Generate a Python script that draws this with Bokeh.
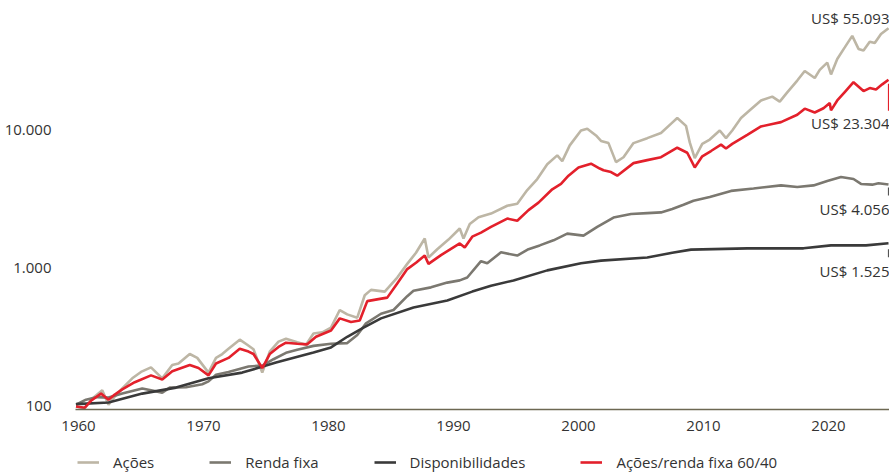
from bokeh.plotting import figure
from bokeh.models import (FixedTicker, CustomJSTickFormatter, Label, Legend, LegendItem,
                          Range1d)
from bokeh.embed import file_html
from bokeh.resources import INLINE

# ---- data ----
acoes_x = [1959.8, 1960.5, 1961.0, 1961.9, 1962.4, 1962.9, 1963.5, 1964.3, 1965.0, 1965.8,
           1966.7, 1967.5, 1968.0, 1968.9, 1969.5, 1970.4, 1971.0, 1971.5, 1972.0, 1972.9,
           1973.5, 1974.0, 1974.7, 1975.3, 1976.0, 1976.6, 1977.5, 1978.2, 1978.8, 1979.5,
           1980.2, 1980.9, 1981.5, 1982.3, 1982.9, 1983.4, 1984.5, 1985.5, 1986.3, 1987.0,
           1987.7, 1988.0, 1988.7, 1989.6, 1990.5, 1990.8, 1991.3, 1992.0, 1993.0, 1994.3,
           1995.1, 1995.9, 1996.7, 1997.5, 1998.3, 1998.7, 1999.3, 2000.2, 2000.7, 2001.4,
           2001.8, 2002.4, 2003.0, 2003.6, 2004.4, 2005.5, 2006.6, 2007.5, 2007.9, 2008.6,
           2008.9, 2009.3, 2009.9, 2010.5, 2011.3, 2011.8, 2012.3, 2013.0, 2013.7, 2014.6,
           2015.5, 2016.1, 2016.7, 2017.5, 2018.1, 2018.9, 2019.3, 2019.9, 2020.2, 2020.7,
           2021.3, 2021.9, 2022.4, 2022.8, 2023.3, 2023.7, 2024.2, 2024.8]
acoes_y = [100, 97, 112, 131, 103, 118, 135, 160, 178, 192,
           160, 200, 205, 240, 225, 176, 225, 240, 262, 305,
           280, 260, 176, 250, 295, 310, 292, 280, 338, 345,
           373, 500, 465, 440, 640, 700, 680, 860, 1080, 1300,
           1650, 1200, 1380, 1620, 1950, 1650, 2100, 2350, 2500, 2850,
           2950, 3700, 4450, 5700, 6600, 6000, 7800, 10000, 10300, 9200,
           8400, 8100, 5900, 6400, 8100, 8800, 9600, 11400, 12300, 10800,
           8200, 6300, 8000, 8600, 10000, 8800, 10000, 12300, 14000, 16500,
           17600, 16200, 18900, 23000, 27000, 24000, 27500, 31000, 25500, 33000,
           40000, 48500, 39000, 38000, 44000, 43000, 50000, 55093]

misto_x = [1959.8, 1960.5, 1961.0, 1961.8, 1962.4, 1962.9, 1963.5, 1964.5, 1965.8, 1966.7,
           1967.5, 1968.9, 1969.6, 1970.4, 1971.0, 1972.0, 1972.9, 1973.6, 1974.0, 1974.7,
           1975.3, 1976.0, 1976.6, 1977.5, 1978.3, 1979.0, 1980.2, 1980.9, 1981.8, 1982.5,
           1983.1, 1984.0, 1984.7, 1985.5, 1986.3, 1987.0, 1987.7, 1988.0, 1989.0, 1990.5,
           1990.9, 1991.5, 1992.2, 1993.0, 1994.3, 1995.1, 1996.0, 1996.8, 1997.9, 1998.6,
           1999.2, 2000.0, 2001.0, 2001.7, 2002.0, 2002.6, 2003.1, 2004.4, 2005.5, 2006.6,
           2007.9, 2008.7, 2009.3, 2009.9, 2010.6, 2011.4, 2011.8, 2012.3, 2013.5, 2014.6,
           2015.6, 2016.2, 2017.5, 2018.1, 2018.9, 2019.6, 2020.1, 2020.2, 2020.7, 2021.3,
           2022.0, 2022.8, 2023.3, 2023.8, 2024.3, 2024.8]
misto_y = [100, 98, 110, 124, 112, 122, 133, 150, 168, 157,
           180, 200, 190, 168, 205, 225, 262, 250, 240, 190,
           240, 270, 290, 285, 282, 320, 355, 435, 410, 420,
           580, 600, 615, 780, 990, 1100, 1240, 1080, 1250, 1520,
           1420, 1700, 1820, 2000, 2300, 2220, 2650, 3000, 3750, 4100,
           4700, 5400, 5750, 5300, 5150, 5000, 4700, 5800, 6100, 6400,
           7500, 6900, 5400, 6500, 7100, 7900, 7400, 8000, 9300, 10700,
           11200, 11500, 13000, 14400, 13500, 14500, 15800, 14000, 16500, 19000,
           22400, 19300, 20300, 19800, 21600, 23304]

renda_x = [1959.8, 1960.6, 1961.5, 1962.4, 1963.5, 1965.1, 1966.7, 1967.3, 1968.6, 1969.9,
           1970.4, 1971.0, 1972.0, 1973.6, 1974.7, 1975.6, 1976.6, 1977.5, 1978.8, 1980.2,
           1981.5, 1982.3, 1983.0, 1984.2, 1985.2, 1986.3, 1986.8, 1988.2, 1989.5, 1990.5,
           1991.1, 1992.2, 1992.7, 1993.8, 1995.1, 1996.0, 1996.9, 1998.0, 1999.1, 2000.4,
           2001.5, 2002.8, 2004.2, 2005.5, 2006.6, 2007.5, 2008.4, 2009.2, 2010.5, 2012.2,
           2014.0, 2016.2, 2017.5, 2018.8, 2019.9, 2021.0, 2022.0, 2022.6, 2023.5, 2024.0,
           2024.8]
renda_y = [103, 112, 117, 116, 124, 135, 126, 137, 138, 145,
           152, 170, 178, 195, 198, 220, 245, 258, 275, 285,
           288, 330, 400, 470, 500, 630, 690, 730, 790, 820,
           860, 1130, 1090, 1310, 1240, 1380, 1470, 1600, 1790, 1730,
           2000, 2340, 2480, 2520, 2550, 2700, 2900, 3100, 3300, 3650,
           3800, 4000, 3900, 4000, 4300, 4600, 4450, 4100, 4050, 4150,
           4056]

disp_x = [1959.8, 1962.4, 1965.1, 1967.8, 1970.4, 1973.1, 1975.8, 1978.8, 1980.2, 1981.5,
          1982.8, 1984.2, 1986.8, 1989.5, 1991.5, 1993.0, 1994.8, 1997.5, 2000.2, 2001.8,
          2005.5, 2007.5, 2009.0, 2013.5, 2018.0, 2020.2, 2023.0, 2024.8]
disp_y = [104, 107, 124, 137, 160, 176, 208, 246, 268, 320,
          373, 435, 522, 586, 680, 750, 819, 969, 1090, 1140,
          1200, 1300, 1370, 1400, 1400, 1470, 1470, 1525]

series_names = ["Ações", "Renda fixa", "Disponibilidades", "Ações/renda fixa 60/40"]
x_ticks = [1960, 1970, 1980, 1990, 2000, 2010, 2020]
y_ticks = [100, 1000, 10000]

# ---- styles ----
C_ACOES = "#bdb6a5"
C_RENDA = "#7b7870"
C_DISP = "#3a3a3a"
C_MISTO = "#e3202b"
C_AXIS = "#6d6852"
TXT = "#333333"
FONT = "Open Sans"

PX = 10 ** (1 / 138.0)          # one screen pixel along the log y scale
AXIS_START = 1959.76             # where the baseline begins
AXIS_VALUE = 100 / PX ** 3       # baseline sits just under the 100 level

# the frame also covers the legend row at the bottom, so the baseline and the
# year labels are drawn inside it at the baseline level
p = figure(frame_width=831, frame_height=465, y_axis_type="log", x_axis_location=None,
           x_range=Range1d(1958.4, 2024.88), y_range=Range1d(33.24, 77850),
           output_backend="svg", toolbar_location=None,
           min_border_left=58, min_border_right=0, min_border_top=7, min_border_bottom=0)
p.outline_line_color = None
p.grid.visible = False
p.background_fill_color = "white"
p.border_fill_color = "white"

r_acoes = p.line(acoes_x, acoes_y, line_color=C_ACOES, line_width=2.6)
r_renda = p.line(renda_x, renda_y, line_color=C_RENDA, line_width=2.6)
r_disp = p.line(disp_x, disp_y, line_color=C_DISP, line_width=2.6)
r_misto = p.line(misto_x, misto_y, line_color=C_MISTO, line_width=2.6)

# y axis
p.yaxis.ticker = FixedTicker(ticks=y_ticks)
p.yaxis.formatter = CustomJSTickFormatter(
    code="return Math.round(tick).toString().replace(/\\B(?=(\\d{3})+(?!\\d))/g, '.');")
p.yaxis.axis_line_color = None
p.yaxis.major_tick_line_color = None
p.yaxis.minor_tick_line_color = None
p.yaxis.major_label_standoff = 1
p.yaxis.major_label_text_font = FONT
p.yaxis.major_label_text_font_size = "15px"
p.yaxis.major_label_text_color = TXT

# x baseline and year labels
p.segment(x0=[AXIS_START], y0=[AXIS_VALUE], x1=[p.x_range.end], y1=[AXIS_VALUE],
          line_color=C_AXIS, line_width=1.5)
for t in x_ticks:
    p.add_layout(Label(x=t, y=AXIS_VALUE, text=str(t), text_align="center",
                       text_baseline="middle", y_offset=-17, text_font=FONT,
                       text_font_size="15px", text_color=TXT))


# end labels with leader lines
def fmt(v):
    return "US$ " + f"{v:,}".replace(",", ".")


ends = [
    (acoes_x[-1], acoes_y[-1], 10, None, None, None),
    (misto_x[-1], misto_y[-1], -43, -4, -31, C_MISTO),
    (renda_x[-1], renda_y[-1], -24, -3, -11, "#555555"),
    (disp_x[-1], disp_y[-1], -28, -6, -14, "#555555"),
]
for ex, ey, off, l0, l1, lc in ends:
    p.add_layout(Label(x=ex, y=ey, text=fmt(ey), text_align="right", text_baseline="middle",
                       y_offset=off, x_offset=1, text_font=FONT, text_font_size="15px",
                       text_color=TXT))
    if lc is not None:
        p.segment(x0=[ex], y0=[ey * PX ** l0], x1=[ex], y1=[ey * PX ** l1],
                  line_color=lc, line_width=1.2)

# legend in the bottom row of the frame
renderers = [r_acoes, r_renda, r_disp, r_misto]
legend = Legend(items=[LegendItem(label=n, renderers=[r]) for n, r in zip(series_names, renderers)],
                location=(19, 0), orientation="horizontal",
                glyph_width=22, glyph_height=12, label_height=12,
                label_standoff=14, padding=0, margin=0, spacing=55,
                border_line_color=None, background_fill_alpha=0,
                label_text_font=FONT, label_text_font_size="15px", label_text_color=TXT)
p.add_layout(legend)

open("out.html", "w").write(file_html(p, INLINE))
